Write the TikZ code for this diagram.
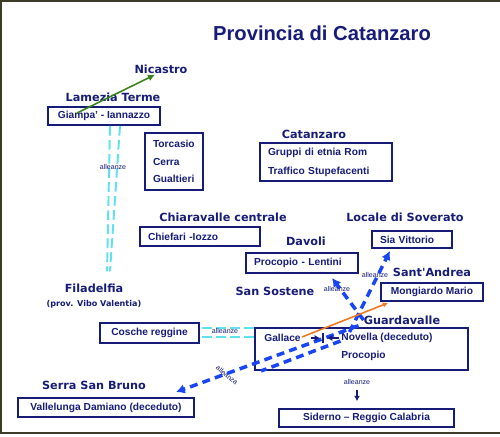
\documentclass[tikz,border=0pt]{standalone}
\usepackage{fontspec}
\setmainfont{Liberation Sans}
\newfontfamily\headfont{DejaVu Sans}
\usetikzlibrary{arrows.meta}

\definecolor{navytext}{RGB}{22,28,120}
\definecolor{cyanline}{RGB}{95,225,240}
\definecolor{royal}{RGB}{25,70,245}
\definecolor{leaf}{RGB}{60,130,30}
\definecolor{rust}{RGB}{240,120,30}
\definecolor{frame}{RGB}{60,60,40}

\begin{document}
\begin{tikzpicture}[
    x=0.02cm, y=-0.02cm,
    town/.style={text=navytext, inner sep=0pt,
                 font=\headfont\bfseries\fontsize{6.4}{7.5}\selectfont},
    box/.style={draw=navytext, line width=1.1pt, text=navytext,
                inner xsep=0.16cm, inner ysep=0pt,
                font=\bfseries\fontsize{5.8}{10}\selectfont},
    item/.style={text=navytext, inner sep=0pt,
                 font=\bfseries\fontsize{5.8}{7}\selectfont},
    tag/.style={text=navytext, inner sep=0.5pt, font=\fontsize{4}{5}\selectfont},
    tie/.style={draw=cyanline, line width=1.1pt, dash pattern=on 5.5pt off 2.5pt},
    alliance/.style={draw=royal, line width=2pt, dash pattern=on 4.5pt off 3pt,
                     -{Latex[length=5pt,width=5.5pt]}},
    pointer/.style={draw=navytext, line width=0.8pt, -{Latex[length=3pt,width=3.5pt]}}
  ]
  \useasboundingbox (0,0) rectangle (500,436);
  \draw[frame, line width=1.2pt] (500,1) -- (1,1) -- (1,433) -- (500,433);

  \node[text=navytext, inner sep=0pt, font=\bfseries\fontsize{11.5}{14}\selectfont]
    (title) at (322,33) {Provincia di Catanzaro};

  % localita'
  \node[town] (nicastro) at (161,69) {Nicastro};
  \node[town] (lamezia) at (113,97) {Lamezia Terme};
  \node[town] (catanzaro) at (314,134) {Catanzaro};
  \node[town] (chiaravalle) at (223,217) {Chiaravalle centrale};
  \node[town] (soverato) at (405,217) {Locale di Soverato};
  \node[town] (davoli) at (306,241) {Davoli};
  \node[town] (santandrea) at (432,272) {Sant'Andrea};
  \node[town] (sansostene) at (275,291) {San Sostene};
  \node[town] (guardavalle) at (402,320) {Guardavalle};
  \node[town] (filadelfia) at (94,288) {Filadelfia};
  \node[town, font=\headfont\bfseries\fontsize{4.6}{5.5}\selectfont]
    (vibo) at (94,304) {(prov. Vibo Valentia)};
  \node[town] (serra) at (94,385) {Serra San Bruno};

  % cosche
  \node[box, minimum width=2.24cm, minimum height=0.36cm] (giampa) at (104,116) {Giampa' - Iannazzo};
  \node[box, text width=0.84cm, align=left, minimum height=1.14cm] (torcasio) at (174,161.5)
    {Torcasio\\Cerra\\Gualtieri};
  \node[box, text width=2.32cm, align=left, minimum height=0.76cm,
        font=\bfseries\fontsize{5.8}{10.8}\selectfont] (rom) at (326,162)
    {Gruppi di etnia Rom\\Traffico Stupefacenti};
  \node[box, text width=2.08cm, align=left, minimum height=0.38cm] (chiefari) at (200,236.5) {Chiefari -Iozzo};
  \node[box, text width=1.28cm, align=left, minimum height=0.34cm] (sia) at (412,239.5) {Sia Vittorio};
  \node[box, text width=1.92cm, align=left, minimum height=0.4cm] (procopio) at (302,263) {Procopio - Lentini};
  \node[box, minimum width=2.04cm, minimum height=0.36cm] (mongiardo) at (432,292) {Mongiardo Mario};
  \node[box, minimum width=1.98cm, minimum height=0.4cm] (cosche) at (149.5,333) {Cosche reggine};
  \node[box, minimum width=4.26cm, minimum height=0.84cm] (guard) at (361.5,349) {};
  \node[box, minimum width=3.52cm, minimum height=0.38cm] (vallelunga) at (106,407.5) {Vallelunga Damiano (deceduto)};
  \node[box, minimum width=3.5cm, minimum height=0.36cm] (siderno) at (366.5,418) {Siderno -- Reggio Calabria};

  \node[item] (gallace) at (282.5,338) {Gallace};
  \node[item] (novella) at (387,338) {Novella (deceduto)};
  \node[item] (procopio2) at (363.5,356) {Procopio};
  \node[fill=navytext, inner sep=0pt, minimum width=0.03cm, minimum height=0.2cm] (bar) at (323,338) {};

  % alleanze
  \draw[leaf, line width=0.9pt, -{Latex[length=4pt,width=4pt]}]
    ([shift={(-27,-3)}]giampa.center) -- ([shift={(-6,1)}]nicastro.south);
  \draw[tie] ([shift={(6,0)}]giampa.south) -- ([shift={(13,-12)}]filadelfia.north);
  \draw[tie] ([shift={(16,0)}]giampa.south) -- ([shift={(16,-12)}]filadelfia.north);
  \node[tag] (tag1) at (113,167) {alleanze};

  \coordinate (t1) at ([shift={(2,-5)}]cosche.east);
  \coordinate (t2) at ([shift={(2,4)}]cosche.east);
  \draw[tie] (t1) -- (t1 -| guard.west);
  \draw[tie] (t2) -- (t2 -| guard.west);
  \node[tag] (tag2) at (225,331) {alleanze};

  \draw[alliance] ([shift={(-12,5)}]guard.north) -- ([shift={(-22,2)}]sia.south);
  \draw[alliance] (guardavalle.west) -- ([shift={(30,4)}]procopio.south);
  \draw[alliance] ([shift={(-5,1)}]guardavalle.south west) -- ([shift={(-19,-5)}]vallelunga.north east);
  \draw[alliance, -] ([shift={(-21,14)}]guard.north) -- ([shift={(7,0)}]guard.south west);
  \node[tag] (tag3) at (375,275) {alleanze};
  \node[tag] (tag4) at (337,289) {alleanze};
  \node[tag, rotate=-40] (tag5) at (227,375) {alleanza};

  \draw[rust, line width=0.9pt, -{Latex[length=3pt,width=3pt]}]
    ([shift={(1,-1)}]gallace.east) -- ([shift={(8,1)}]mongiardo.south west);
  \draw[pointer] ([shift={(10,0)}]gallace.east) -- ([shift={(-2,0)}]bar.west);
  \draw[pointer] ([shift={(-2,0)}]novella.west) -- ([shift={(3,0)}]bar.east);

  \node[tag] (tag6) at (357,382) {alleanze};
  \draw[pointer, line width=1pt] ([shift={(0,4)}]tag6.south) -- ([shift={(-9.5,-7)}]siderno.north);
\end{tikzpicture}
\end{document}
